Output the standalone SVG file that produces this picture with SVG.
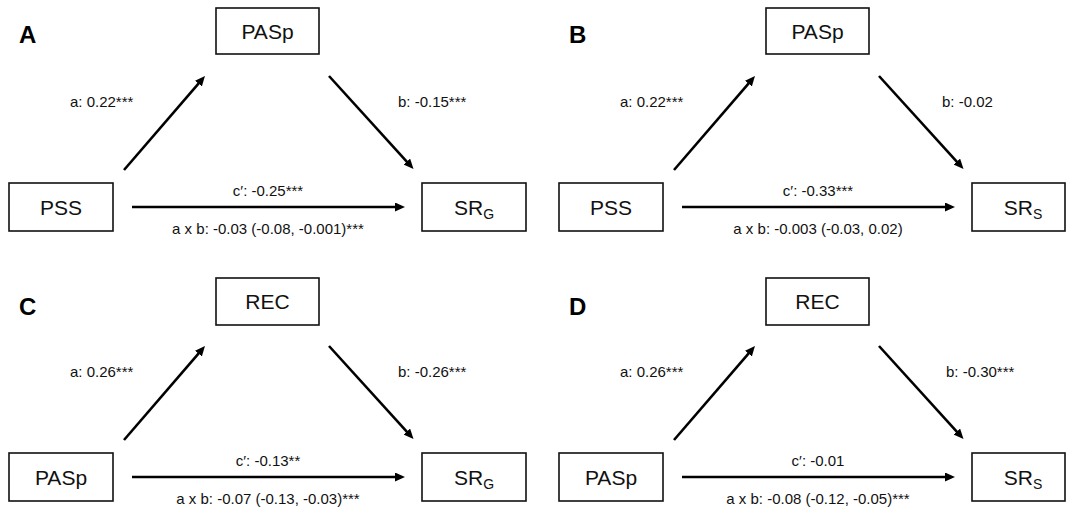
<svg xmlns="http://www.w3.org/2000/svg" width="1066" height="508" viewBox="0 0 1066 508">
<style>
.box{fill:#fff;stroke:#111;stroke-width:1.6}
.nt{font-family:"Liberation Sans",Arial,sans-serif;font-size:21px;fill:#111;text-anchor:middle}
.sub{font-size:14px}
.lbl{font-family:"Liberation Sans",Arial,sans-serif;font-size:15px;fill:#111}
.mid{text-anchor:middle}
.pl{font-family:"Liberation Sans",Arial,sans-serif;font-size:24px;font-weight:bold;fill:#000}
.ar{stroke:#000;stroke-width:2.6;fill:none;marker-end:url(#ah)}
</style>
<defs>
<marker id="ah" markerUnits="userSpaceOnUse" markerWidth="11" markerHeight="10" refX="3" refY="4.5" orient="auto">
<path d="M0,0 L10,4.5 L0,9 z" fill="#000"/>
</marker>
</defs>
<rect width="1066" height="508" fill="#fff"/>

<!-- panel letters -->
<text class="pl" x="19" y="43">A</text>
<text class="pl" x="569" y="43">B</text>
<text class="pl" x="19" y="315">C</text>
<text class="pl" x="569" y="315">D</text>

<!-- Panel A nodes -->
<g id="A-PASp"><rect class="box" x="216" y="8" width="103" height="46"/><text class="nt" x="267.5" y="38.5">PASp</text></g>
<g id="A-PSS"><rect class="box" x="9" y="183" width="104" height="48"/><text class="nt" x="61" y="214.5">PSS</text></g>
<g id="A-SRG"><rect class="box" x="422" y="183" width="104" height="48"/><text class="nt" x="474" y="214.5">SR<tspan class="sub" dy="4">G</tspan></text></g>

<!-- Panel B nodes -->
<g id="B-PASp"><rect class="box" x="766" y="8" width="103" height="46"/><text class="nt" x="817.5" y="38.5">PASp</text></g>
<g id="B-PSS"><rect class="box" x="559" y="183" width="104" height="48"/><text class="nt" x="611" y="214.5">PSS</text></g>
<g id="B-SRS"><rect class="box" x="972" y="183" width="93" height="48"/><text class="nt" x="1023" y="214.5">SR<tspan class="sub" dy="4">S</tspan></text></g>

<!-- Panel C nodes -->
<g id="C-REC"><rect class="box" x="216" y="278" width="103" height="47"/><text class="nt" x="267.5" y="309">REC</text></g>
<g id="C-PASp"><rect class="box" x="9" y="453" width="104" height="48"/><text class="nt" x="61" y="484.5">PASp</text></g>
<g id="C-SRG"><rect class="box" x="422" y="453" width="104" height="48"/><text class="nt" x="474" y="484.5">SR<tspan class="sub" dy="4">G</tspan></text></g>

<!-- Panel D nodes -->
<g id="D-REC"><rect class="box" x="766" y="278" width="103" height="47"/><text class="nt" x="817.5" y="309">REC</text></g>
<g id="D-PASp"><rect class="box" x="559" y="453" width="104" height="48"/><text class="nt" x="611" y="484.5">PASp</text></g>
<g id="D-SRS"><rect class="box" x="972" y="453" width="93" height="48"/><text class="nt" x="1023" y="484.5">SR<tspan class="sub" dy="4">S</tspan></text></g>

<!-- connectors -->
<g id="connectors">
<path class="ar" d="M124,170 L200.4,81.3"/>
<path class="ar" d="M329,76 L408.8,163.8"/>
<path class="ar" d="M132,207 L398,207"/>

<path class="ar" d="M674,170 L750.4,81.3"/>
<path class="ar" d="M879,76 L958.8,163.8"/>
<path class="ar" d="M682,207 L948,207"/>

<path class="ar" d="M124,440 L200.4,351.3"/>
<path class="ar" d="M329,346 L408.8,433.8"/>
<path class="ar" d="M132,477 L398,477"/>

<path class="ar" d="M674,440 L750.4,351.3"/>
<path class="ar" d="M879,346 L958.8,433.8"/>
<path class="ar" d="M682,477 L948,477"/>
</g>

<!-- connector labels -->
<g id="labels">
<text class="lbl" x="70" y="107">a: 0.22***</text>
<text class="lbl" x="398" y="107">b: -0.15***</text>
<text class="lbl mid" x="268" y="196">c′: -0.25***</text>
<text class="lbl mid" x="268" y="234">a x b: -0.03 (-0.08, -0.001)***</text>

<text class="lbl" x="620" y="107">a: 0.22***</text>
<text class="lbl" x="942" y="107">b: -0.02</text>
<text class="lbl mid" x="818" y="196">c′: -0.33***</text>
<text class="lbl mid" x="818" y="234">a x b: -0.003 (-0.03, 0.02)</text>

<text class="lbl" x="70" y="377">a: 0.26***</text>
<text class="lbl" x="398" y="377">b: -0.26***</text>
<text class="lbl mid" x="268" y="466">c′: -0.13**</text>
<text class="lbl mid" x="268" y="504">a x b: -0.07 (-0.13, -0.03)***</text>

<text class="lbl" x="620" y="377">a: 0.26***</text>
<text class="lbl" x="946" y="377">b: -0.30***</text>
<text class="lbl mid" x="818" y="466">c′: -0.01</text>
<text class="lbl mid" x="818" y="504">a x b: -0.08 (-0.12, -0.05)***</text>
</g>
</svg>
